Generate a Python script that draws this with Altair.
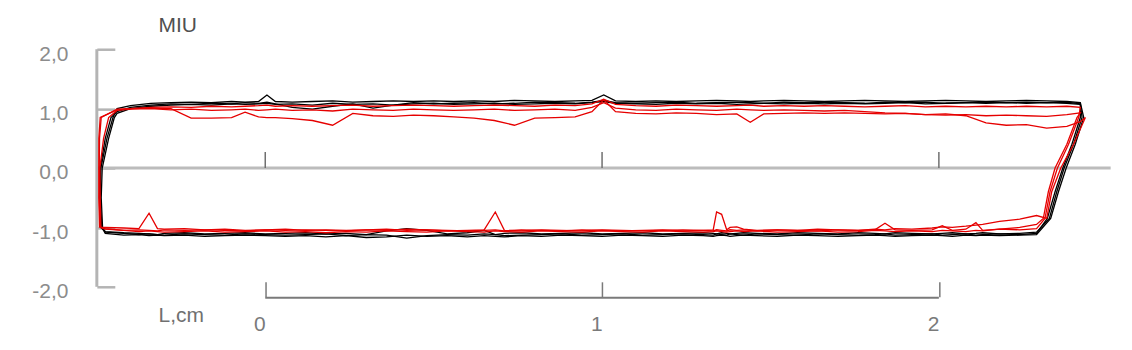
import altair as alt
import pandas as pd

# ---------------- data ----------------
Y_TICKS = [-2, -1, 0, 1, 2]
X_TICKS = [0, 1, 2]

TOP_X = [-0.44, -0.40, -0.34, -0.28, -0.22, -0.16, -0.10, -0.06, -0.02, 0.005,
         0.03, 0.08, 0.14, 0.20, 0.26, 0.32, 0.38, 0.44, 0.50, 0.56,
         0.62, 0.68, 0.74, 0.80, 0.86, 0.92, 0.97, 1.005, 1.04, 1.10,
         1.16, 1.22, 1.28, 1.34, 1.40, 1.44, 1.48, 1.54, 1.60, 1.66,
         1.72, 1.78, 1.84, 1.90, 1.96, 2.02, 2.08, 2.14, 2.20, 2.26,
         2.32, 2.38, 2.42]

BOTTOM_X = [2.29, 2.24, 2.18, 2.13, 2.11, 2.08, 2.04, 2.01, 1.98, 1.92,
            1.87, 1.84, 1.81, 1.76, 1.70, 1.64, 1.58, 1.52, 1.46, 1.42,
            1.40, 1.38, 1.37, 1.355, 1.34, 1.33, 1.30, 1.24, 1.18, 1.12,
            1.06, 1.00, 0.94, 0.88, 0.82, 0.76, 0.71, 0.683, 0.65, 0.60,
            0.54, 0.48, 0.42, 0.36, 0.30, 0.24, 0.18, 0.12, 0.06, 0.00,
            -0.06, -0.12, -0.18, -0.24, -0.30, -0.32, -0.345, -0.375, -0.42, -0.475]

LEFT_Y = [-1.0, -0.5, 0.0, 0.5, 0.85]
RIGHT_Y = [0.85, 0.4, 0.0, -0.4, -0.85]

# black cycles
B1_LEFT_X = [-0.485, -0.49, -0.488, -0.47, -0.452]
B1_TOP = [1.00, 1.05, 1.09, 1.10, 1.11, 1.10, 1.12, 1.11, 1.12, 1.23,
          1.12, 1.11, 1.12, 1.13, 1.11, 1.12, 1.13, 1.12, 1.13, 1.12,
          1.13, 1.12, 1.14, 1.13, 1.12, 1.13, 1.14, 1.23, 1.13, 1.12,
          1.13, 1.12, 1.13, 1.14, 1.13, 1.12, 1.13, 1.14, 1.13, 1.12,
          1.13, 1.14, 1.13, 1.12, 1.13, 1.14, 1.13, 1.12, 1.13, 1.14,
          1.13, 1.12, 1.10]
B1_RIGHT_X = [2.43, 2.405, 2.378, 2.355, 2.332]
B1_BOTTOM = [-1.12, -1.13, -1.14, -1.13, -1.14, -1.13, -1.15, -1.14, -1.13, -1.14,
             -1.15, -1.14, -1.13, -1.14, -1.15, -1.14, -1.13, -1.15, -1.14, -1.13,
             -1.14, -1.15, -1.14, -1.13, -1.14, -1.15, -1.14, -1.13, -1.15, -1.14,
             -1.13, -1.15, -1.14, -1.13, -1.15, -1.14, -1.16, -1.15, -1.14, -1.16,
             -1.14, -1.15, -1.13, -1.16, -1.17, -1.14, -1.16, -1.14, -1.15, -1.14,
             -1.13, -1.14, -1.15, -1.13, -1.14, -1.13, -1.14, -1.12, -1.13, -1.10]

B2_LEFT_X = [-0.488, -0.492, -0.49, -0.475, -0.458]
B2_TOP = [0.95, 1.02, 1.06, 1.08, 1.07, 1.09, 1.08, 1.10, 1.09, 1.11,
          1.08, 1.02, 0.99, 1.04, 1.08, 1.01, 1.06, 1.10, 1.08, 1.09,
          1.10, 1.08, 1.09, 1.11, 1.10, 1.09, 1.11, 1.14, 1.10, 1.09,
          1.10, 1.11, 1.09, 1.10, 1.11, 1.10, 1.09, 1.11, 1.10, 1.11,
          1.10, 1.09, 1.11, 1.10, 1.11, 1.09, 1.10, 1.11, 1.10, 1.11,
          1.10, 1.11, 1.08]
B2_RIGHT_X = [2.425, 2.40, 2.372, 2.35, 2.328]
B2_BOTTOM = [-1.08, -1.10, -1.11, -1.09, -1.10, -1.11, -1.09, -1.10, -1.11, -1.10,
             -1.09, -1.11, -1.10, -1.09, -1.11, -1.10, -1.09, -1.11, -1.10, -1.09,
             -1.10, -1.11, -1.10, -1.09, -1.11, -1.10, -1.09, -1.10, -1.11, -1.09,
             -1.10, -1.11, -1.09, -1.10, -1.11, -1.09, -1.10, -1.12, -1.05, -1.09,
             -1.11, -1.05, -1.02, -1.06, -1.12, -1.10, -1.11, -1.09, -1.10, -1.11,
             -1.09, -1.10, -1.11, -1.09, -1.10, -1.12, -1.11, -1.10, -1.09, -1.07]

B3_LEFT_X = [-0.483, -0.487, -0.484, -0.465, -0.448]
B3_TOP = [0.92, 1.00, 1.04, 1.06, 1.07, 1.06, 1.08, 1.07, 1.08, 1.09,
          1.07, 1.08, 1.06, 1.09, 1.07, 1.08, 1.06, 1.08, 1.09, 1.07,
          1.08, 1.09, 1.07, 1.08, 1.09, 1.08, 1.10, 1.12, 1.09, 1.08,
          1.07, 1.09, 1.08, 1.09, 1.07, 1.08, 1.09, 1.08, 1.09, 1.08,
          1.09, 1.08, 1.09, 1.10, 1.08, 1.09, 1.10, 1.09, 1.10, 1.09,
          1.10, 1.09, 1.07]
B3_RIGHT_X = [2.42, 2.395, 2.368, 2.345, 2.322]
B3_BOTTOM = [-1.10, -1.12, -1.11, -1.12, -1.13, -1.11, -1.12, -1.13, -1.11, -1.12,
             -1.13, -1.11, -1.12, -1.13, -1.12, -1.11, -1.13, -1.12, -1.11, -1.13,
             -1.12, -1.11, -1.13, -1.12, -1.11, -1.13, -1.12, -1.11, -1.12, -1.13,
             -1.11, -1.12, -1.13, -1.11, -1.12, -1.13, -1.14, -1.12, -1.11, -1.13,
             -1.12, -1.14, -1.18, -1.13, -1.12, -1.14, -1.11, -1.12, -1.13, -1.12,
             -1.11, -1.13, -1.12, -1.11, -1.13, -1.12, -1.11, -1.12, -1.10, -1.08]

# red cycles
R1_LEFT_X = [-0.492, -0.494, -0.494, -0.494, -0.49]
R1_TOP = [0.98, 1.00, 1.02, 1.03, 1.02, 1.04, 1.03, 1.04, 1.05, 1.06,
          1.04, 1.05, 1.04, 1.05, 1.06, 1.04, 1.05, 1.06, 1.05, 1.04,
          1.05, 1.06, 1.05, 1.04, 1.06, 1.05, 1.08, 1.16, 1.07, 1.05,
          1.04, 1.06, 1.05, 1.04, 1.05, 1.06, 1.04, 1.05, 1.04, 1.05,
          1.04, 1.03, 1.04, 1.05, 1.03, 1.04, 1.03, 1.04, 1.03, 1.04,
          1.03, 1.04, 1.02]
R1_RIGHT_X = [2.415, 2.385, 2.352, 2.33, 2.315]
R1_BOTTOM = [-1.02, -1.04, -1.03, -1.05, -0.92, -1.03, -1.05, -0.97, -1.04, -1.05,
             -1.04, -0.93, -1.04, -1.05, -1.04, -1.06, -1.05, -1.04, -1.05, -1.03,
             -0.99, -1.00, -1.04, -0.78, -0.74, -1.04, -1.05, -1.04, -1.05, -1.06,
             -1.05, -1.04, -1.06, -1.05, -1.04, -1.06, -1.05, -0.74, -1.04, -1.05,
             -1.06, -1.04, -1.05, -1.03, -1.04, -1.05, -1.04, -1.05, -1.03, -1.04,
             -1.05, -1.03, -1.04, -1.02, -1.03, -1.02, -0.76, -1.02, -1.01, -1.00]

R2_LEFT_X = [-0.49, -0.493, -0.493, -0.492, -0.487]
R2_TOP = [0.99, 1.00, 1.01, 1.00, 0.84, 0.84, 0.85, 0.94, 0.86, 0.85,
          0.85, 0.83, 0.80, 0.72, 0.92, 0.88, 0.87, 0.89, 0.88, 0.86,
          0.84, 0.80, 0.72, 0.84, 0.85, 0.86, 0.95, 1.15, 0.95, 0.92,
          0.91, 0.93, 0.92, 0.90, 0.91, 0.77, 0.91, 0.92, 0.93, 0.92,
          0.93, 0.92, 0.91, 0.92, 0.90, 0.91, 0.88, 0.76, 0.72, 0.73,
          0.67, 0.70, 0.78]
R2_RIGHT_X = [2.435, 2.40, 2.362, 2.335, 2.32]
R2_BOTTOM = [-0.80, -0.86, -0.90, -0.95, -0.96, -0.98, -1.00, -0.99, -1.01, -1.03,
             -1.02, -1.04, -1.03, -1.05, -1.04, -1.03, -1.05, -1.04, -1.06, -1.04,
             -1.05, -1.04, -1.06, -1.05, -1.04, -1.06, -1.05, -1.06, -1.04, -1.05,
             -1.06, -1.05, -1.04, -1.06, -1.05, -1.04, -1.06, -1.04, -1.05, -1.06,
             -1.05, -1.04, -1.03, -1.05, -1.04, -1.06, -1.05, -1.04, -1.05, -1.04,
             -1.06, -1.05, -1.04, -1.05, -1.04, -1.06, -1.05, -1.04, -1.05, -1.03]

R3_LEFT_X = [-0.488, -0.49, -0.491, -0.48, -0.465]
R3_TOP = [0.97, 0.99, 1.00, 0.98, 0.99, 0.97, 0.98, 0.99, 0.97, 0.98,
          0.99, 0.97, 0.98, 0.96, 0.99, 0.98, 0.97, 0.99, 0.98, 0.97,
          0.98, 0.99, 0.97, 0.98, 0.99, 0.97, 1.02, 1.10, 1.01, 0.98,
          0.97, 0.99, 0.98, 0.97, 0.99, 0.98, 0.97, 0.98, 0.97, 0.96,
          0.97, 0.95, 0.93, 0.92, 0.90, 0.89, 0.90, 0.88, 0.89, 0.88,
          0.87, 0.90, 0.93]
R3_RIGHT_X = [2.41, 2.38, 2.345, 2.325, 2.31]
R3_BOTTOM = [-0.95, -1.00, -1.03, -1.06, -1.05, -1.07, -1.06, -1.05, -1.07, -1.06,
             -1.07, -1.06, -1.05, -1.07, -1.08, -1.06, -1.07, -1.08, -1.06, -1.07,
             -1.06, -1.07, -1.08, -1.07, -1.06, -1.07, -1.08, -1.07, -1.06, -1.08,
             -1.07, -1.06, -1.08, -1.07, -1.06, -1.08, -1.07, -1.06, -1.08, -1.07,
             -1.06, -1.08, -1.07, -1.06, -1.08, -1.07, -1.09, -1.07, -1.08, -1.06,
             -1.07, -1.08, -1.06, -1.07, -1.08, -1.07, -1.06, -1.07, -1.05, -1.02]

TRACES = [
    ("b1", "black", B1_LEFT_X, B1_TOP, B1_RIGHT_X, B1_BOTTOM),
    ("b2", "black", B2_LEFT_X, B2_TOP, B2_RIGHT_X, B2_BOTTOM),
    ("b3", "black", B3_LEFT_X, B3_TOP, B3_RIGHT_X, B3_BOTTOM),
    ("r3", "red", R3_LEFT_X, R3_TOP, R3_RIGHT_X, R3_BOTTOM),
    ("r2", "red", R2_LEFT_X, R2_TOP, R2_RIGHT_X, R2_BOTTOM),
    ("r1", "red", R1_LEFT_X, R1_TOP, R1_RIGHT_X, R1_BOTTOM),
]

rows = []
for name, col, lx, ty, rx, by in TRACES:
    # one closed cycle: rise on the left, forward stroke, reversal, return stroke
    xs = list(lx) + TOP_X + list(rx) + BOTTOM_X + [lx[0]]
    ys = LEFT_Y + list(ty) + RIGHT_Y + list(by) + [LEFT_Y[0]]
    for i, (xv, yv) in enumerate(zip(xs, ys)):
        rows.append({"x": xv, "y": yv, "trace": name, "col": col, "i": i})
df = pd.DataFrame(rows)

# ---------------- scales / axes ----------------
FONT = "Liberation Sans"
xscale = alt.Scale(domain=[-0.5, 2.52], nice=False, zero=False)
yscale = alt.Scale(domain=[-2, 2], nice=False, zero=False)

X_AXIS = alt.Axis(values=X_TICKS, format="d", domain=False, grid=False,
                  tickSize=15, tickColor="#7a7a7a", tickWidth=1.5, offset=-5,
                  labelAlign="right", labelBaseline="alphabetic", labelPadding=34,
                  labelFontSize=21, labelColor="#7a7a7a", labelFont=FONT,
                  labelFlush=False, title=None)
Y_AXIS = alt.Axis(values=Y_TICKS,
                  labelExpr="(datum.value < 0 ? '-' : '') + replace(format(abs(datum.value), '.1f'), '.', ',')",
                  domain=False, grid=False, tickSize=18, tickColor="#b4b4b4",
                  tickWidth=2.5, offset=-18, labelPadding=29, labelFontSize=21,
                  labelColor="#8c8c8c", labelFont=FONT, labelOffset=5,
                  labelBaseline="middle", title=None)


def X(field):
    return alt.X(field, type="quantitative", scale=xscale, axis=X_AXIS)


def Y(field):
    return alt.Y(field, type="quantitative", scale=yscale, axis=Y_AXIS)


line_enc = dict(x=X("x"), y=Y("y"), detail="trace:N", order="i:Q")

black = alt.Chart(df[df.col == "black"]).mark_line(
    color="#000000", strokeWidth=1.3).encode(**line_enc)
red = alt.Chart(df[df.col == "red"]).mark_line(
    color="#e60000", strokeWidth=1.3).encode(**line_enc)

# frame pieces (reference lines)
zero_line = alt.Chart(pd.DataFrame({"x": [-0.5], "x2": [2.51], "y": [0]})).mark_rule(
    color="#bcbcbc", strokeWidth=3).encode(x=X("x"), x2="x2", y=Y("y"))
y_line = alt.Chart(pd.DataFrame({"x": [-0.5], "y": [-2], "y2": [2]})).mark_rule(
    color="#b4b4b4", strokeWidth=3).encode(x=X("x"), y=Y("y"), y2="y2")
x_line = alt.Chart(pd.DataFrame({"x": [0], "x2": [2], "y": [-2.185]})).mark_rule(
    color="#7a7a7a", strokeWidth=2).encode(x=X("x"), x2="x2", y=Y("y"))
zero_ticks = alt.Chart(pd.DataFrame({"x": X_TICKS, "y": [0] * 3, "y2": [0.27] * 3})).mark_rule(
    color="#707070", strokeWidth=1.5).encode(x=X("x"), y=Y("y"), y2="y2")

titles = pd.DataFrame({"x": [-0.317, -0.317], "y": [2.29, -2.59],
                       "t": ["MIU", "L,cm"], "c": ["#505050", "#707070"]})
title_text = alt.Chart(titles).mark_text(
    align="left", baseline="alphabetic", font=FONT, fontSize=21).encode(
    x=X("x"), y=Y("y"), text="t:N", color=alt.Color("c:N", scale=None))

chart = alt.layer(zero_line, y_line, x_line, zero_ticks, black, red, title_text).properties(
    width=1019, height=238,
    autosize=alt.AutoSizeParams(type="none"),
    padding={"left": 89, "top": 41, "right": 10, "bottom": 55},
    background="white",
).configure_view(stroke=None)

chart.save("out.html", embed_options={"renderer": "svg", "actions": False})
